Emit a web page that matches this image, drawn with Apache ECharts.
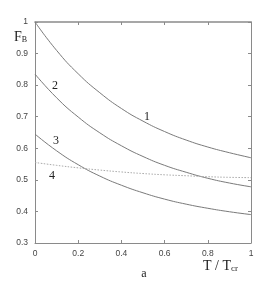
<!DOCTYPE html>
<html>
<head>
<meta charset="utf-8">
<script src="https://cdn.jsdelivr.net/npm/echarts@6/dist/echarts.min.js"></script>
<style>html,body{margin:0;padding:0;background:#fff;}#c{width:273px;height:288px;}</style>
</head>
<body>
<div id="c"></div>
<script>
var tValues = [0, 0.1, 0.2, 0.3, 0.4, 0.5, 0.6, 0.7, 0.8, 0.9, 1.0];
var curve1 = [1.000, 0.910, 0.836, 0.776, 0.726, 0.686, 0.653, 0.626, 0.604, 0.586, 0.570];
var curve2 = [0.835, 0.760, 0.699, 0.649, 0.608, 0.574, 0.546, 0.524, 0.505, 0.490, 0.478];
var curve3 = [0.645, 0.592, 0.548, 0.512, 0.483, 0.459, 0.439, 0.423, 0.410, 0.399, 0.390];
var curve4 = [0.555, 0.546, 0.538, 0.531, 0.525, 0.520, 0.516, 0.513, 0.510, 0.508, 0.507];
var curveNames = ['1', '2', '3', '4'];
var xTickLabels = ['0', '0.2', '0.4', '0.6', '0.8', '1'];
var yTickLabels = ['0.3', '0.4', '0.5', '0.6', '0.7', '0.8', '0.9', '1'];

function pairs(vals) { return tValues.map(function (t, i) { return [t, vals[i]]; }); }
function xLab(v) { var i = Math.round(v / 0.2); return xTickLabels[i] || ''; }
function yLab(v) { var i = Math.round((v - 0.3) / 0.1); return yTickLabels[i] || ''; }

var axisCol = '#8a8a8a';
var lineCol = '#7a7a7a';
var labelFont = { fontFamily: 'Liberation Sans Narrow, Liberation Sans, Arial', fontSize: 8.5, color: '#444' };

var chart = echarts.init(document.getElementById('c'), null, { renderer: 'canvas' });
var serifFont = 'Liberation Serif, Times New Roman, serif';

chart.setOption({
  animation: false,
  backgroundColor: '#fff',
  grid: { left: 35, right: 22, top: 22, bottom: 45 },
  xAxis: [
    { type: 'value', position: 'bottom', min: 0, max: 1, interval: 0.2,
      axisLine: { show: true, lineStyle: { color: axisCol, width: 1 } },
      axisTick: { show: true, inside: true, length: 3, lineStyle: { color: axisCol } },
      axisLabel: Object.assign({ margin: 6, formatter: xLab }, labelFont),
      splitLine: { show: false } },
    { type: 'value', position: 'top', min: 0, max: 1, interval: 0.2,
      axisLine: { show: true, onZero: false, lineStyle: { color: axisCol, width: 1.5 } },
      axisTick: { show: true, inside: true, length: 3, lineStyle: { color: axisCol } },
      axisLabel: { show: false }, splitLine: { show: false } }
  ],
  yAxis: [
    { type: 'value', position: 'left', min: 0.3, max: 1, interval: 0.1,
      axisLine: { show: true, onZero: false, lineStyle: { color: axisCol, width: 1 } },
      axisTick: { show: true, inside: true, length: 3, lineStyle: { color: axisCol } },
      axisLabel: Object.assign({ margin: 7, formatter: yLab }, labelFont),
      splitLine: { show: false } },
    { type: 'value', position: 'right', min: 0.3, max: 1, interval: 0.1,
      axisLine: { show: true, onZero: false, lineStyle: { color: axisCol, width: 1 } },
      axisTick: { show: true, inside: true, length: 3, lineStyle: { color: axisCol } },
      axisLabel: { show: false }, splitLine: { show: false } }
  ],
  series: [
    { name: curveNames[0], type: 'line', data: pairs(curve1), smooth: true, showSymbol: false,
      lineStyle: { color: lineCol, width: 1 } },
    { name: curveNames[1], type: 'line', data: pairs(curve2), smooth: true, showSymbol: false,
      lineStyle: { color: lineCol, width: 1 } },
    { name: curveNames[2], type: 'line', data: pairs(curve3), smooth: true, showSymbol: false,
      lineStyle: { color: lineCol, width: 1 } },
    { name: curveNames[3], type: 'line', data: pairs(curve4), smooth: true, showSymbol: false,
      lineStyle: { color: '#aaaaaa', width: 1, type: [1.5, 1.5] } }
  ],
  graphic: [
    { type: 'text', left: 14, top: 30, style: { text: '{f|F}{s|B}', rich: {
        f: { fontFamily: serifFont, fontSize: 14, fill: '#222' },
        s: { fontFamily: serifFont, fontSize: 8, fill: '#222', verticalAlign: 'bottom', padding: [6, 0, 0, 0] } } } },
    { type: 'text', x: 147, y: 117, style: { text: curveNames[0], font: '12px ' + serifFont, fill: '#222', align: 'center', verticalAlign: 'middle' } },
    { type: 'text', x: 55, y: 86, style: { text: curveNames[1], font: '12px ' + serifFont, fill: '#222', align: 'center', verticalAlign: 'middle' } },
    { type: 'text', x: 56, y: 141, style: { text: curveNames[2], font: '12px ' + serifFont, fill: '#222', align: 'center', verticalAlign: 'middle' } },
    { type: 'text', x: 52, y: 176, style: { text: curveNames[3], font: '12px ' + serifFont, fill: '#222', align: 'center', verticalAlign: 'middle' } },
    { type: 'text', x: 144, y: 274, style: { text: 'a', font: '12px ' + serifFont, fill: '#222', align: 'center', verticalAlign: 'middle' } },
    { type: 'text', left: 203, top: 259, style: { text: '{t|T / T}{s|cr}', rich: {
        t: { fontFamily: serifFont, fontSize: 14, fill: '#222' },
        s: { fontFamily: serifFont, fontSize: 9, fill: '#222', padding: [6, 0, 0, 0] } } } }
  ]
});
</script>
</body>
</html>
